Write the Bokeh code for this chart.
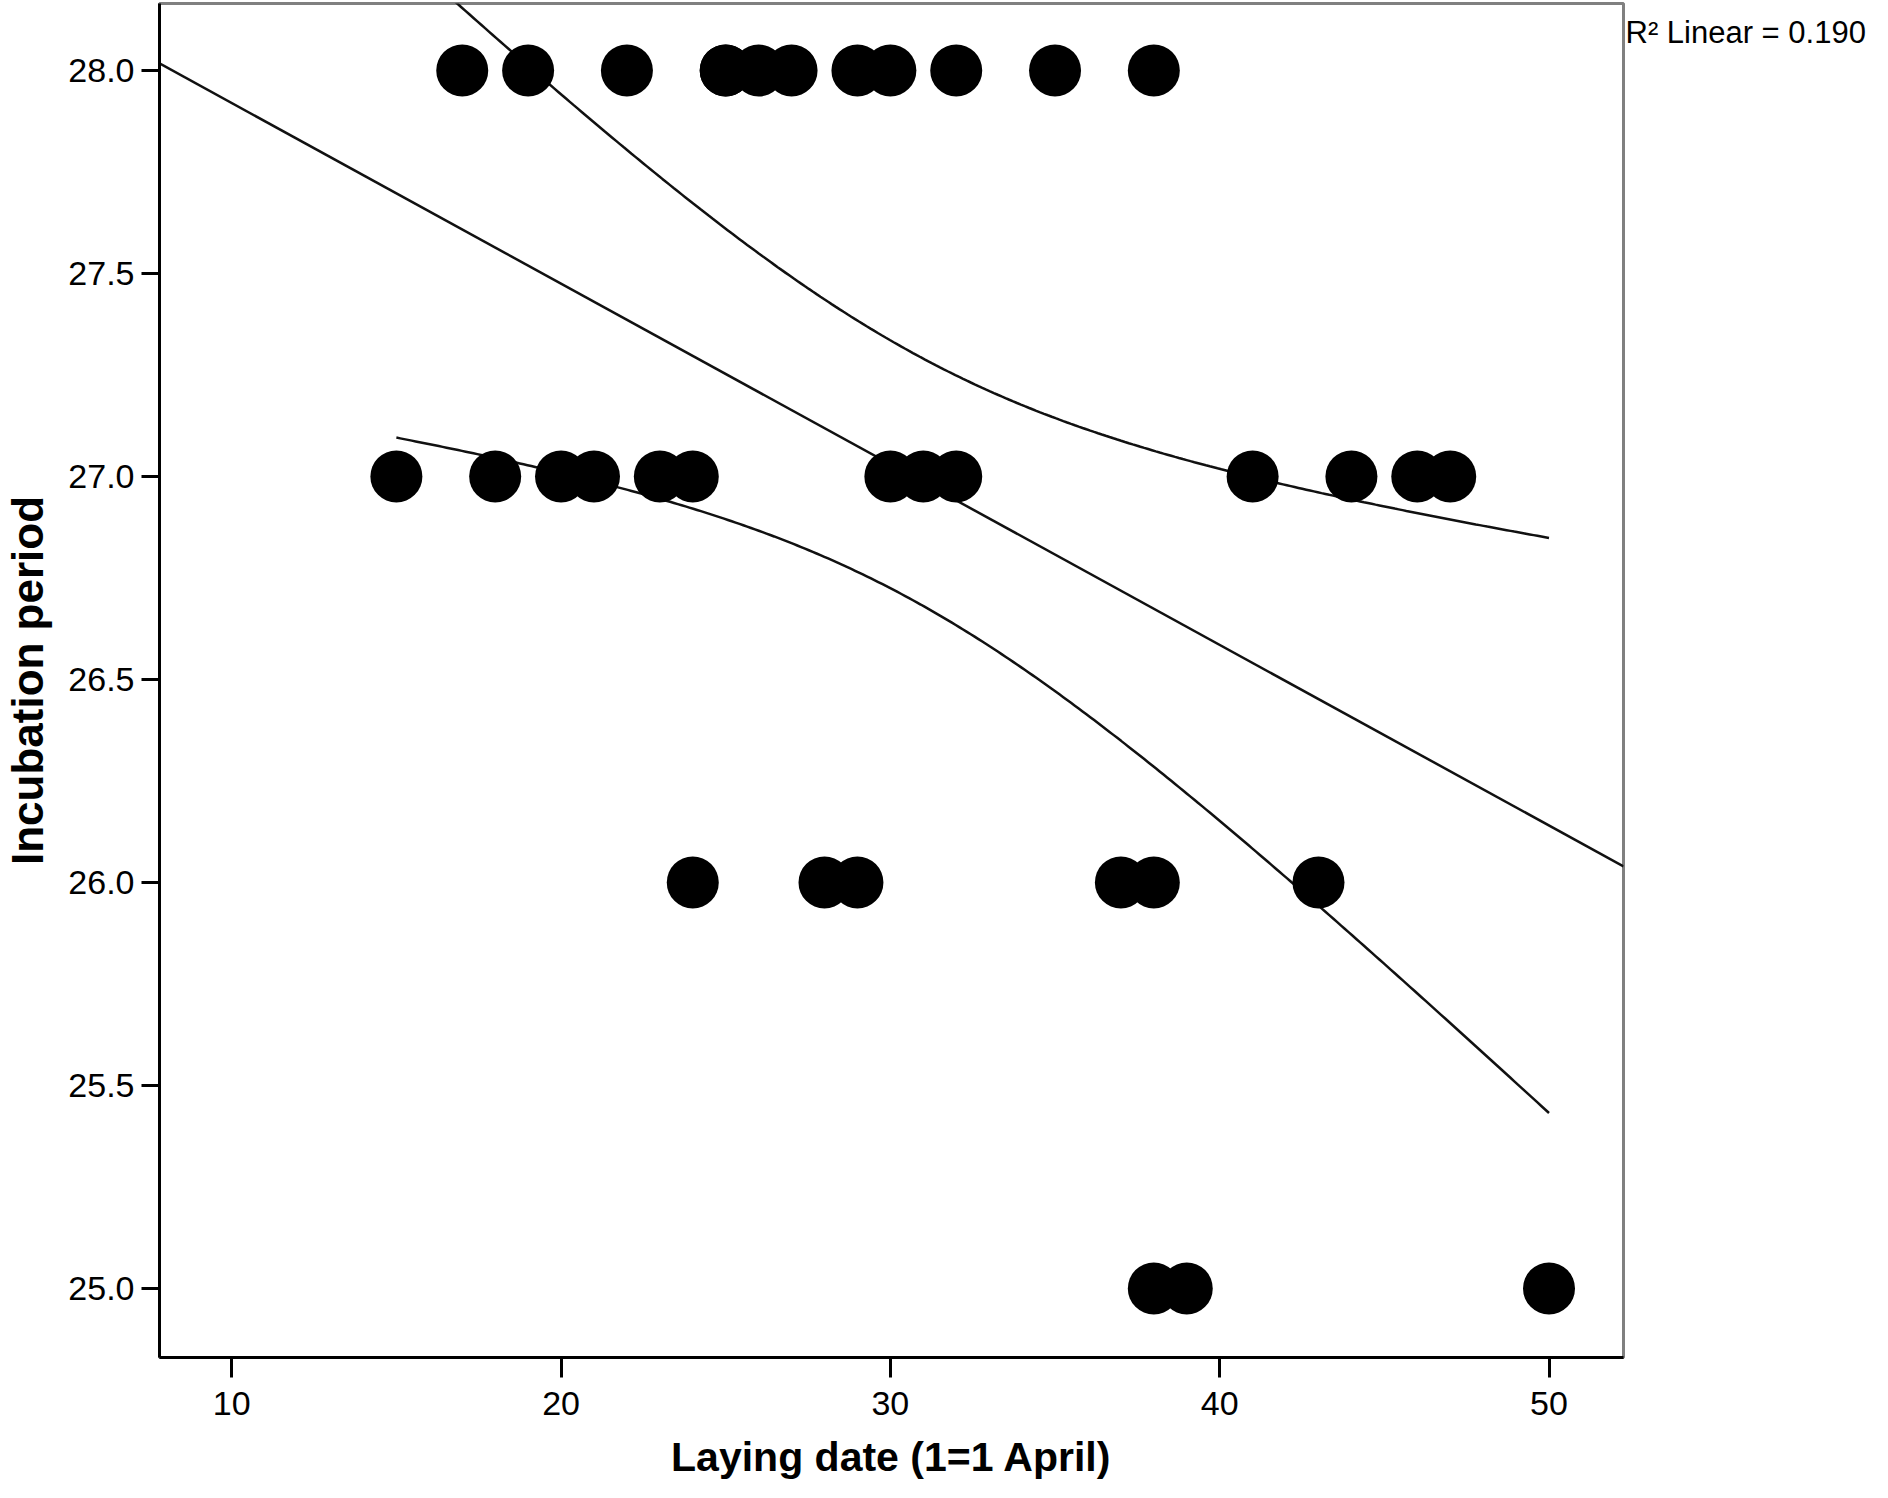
import numpy as np
from bokeh.plotting import figure
from bokeh.models import Range1d, FixedTicker, PrintfTickFormatter, LinearAxis
from bokeh.embed import file_html
from bokeh.resources import INLINE

# ---- data ((25, 28) occurs twice, hidden by overlap) ----
laying_date_28 = [17, 19, 22, 25, 25, 26, 27, 29, 30, 32, 35, 38]
laying_date_27 = [15, 18, 20, 21, 23, 24, 30, 31, 32, 41, 44, 46, 47]
laying_date_26 = [24, 28, 29, 37, 38, 43]
laying_date_25 = [38, 39, 50]
incubation_levels = [28, 27, 26, 25]

x_ticks = [10, 20, 30, 40, 50]
y_ticks = [25.0, 25.5, 26.0, 26.5, 27.0, 27.5, 28.0]
r2_text = "R\u00b2 Linear = 0.190"
x_title = "Laying date (1=1 April)"
y_title = "Incubation period"
t_crit = 2.037  # t(0.975, df=32)

groups = [laying_date_28, laying_date_27, laying_date_26, laying_date_25]
xs = np.array([d for g in groups for d in g], dtype=float)
ys = np.array([lvl for g, lvl in zip(groups, incubation_levels) for _ in g], dtype=float)

# ---- linear fit + 95% CI of the mean ----
n = len(xs)
xm, ym = xs.mean(), ys.mean()
sxx = ((xs - xm) ** 2).sum()
sxy = ((xs - xm) * (ys - ym)).sum()
slope = sxy / sxx
icpt = ym - slope * xm
resid = ys - (icpt + slope * xs)
s = np.sqrt((resid ** 2).sum() / (n - 2))

X0, X1 = 7.807, 52.262
Y0, Y1 = 24.830, 28.165
fit_x = np.array([X0, X1])
fit_y = icpt + slope * fit_x
ci_x = np.linspace(xs.min(), xs.max(), 300)
hw = t_crit * s * np.sqrt(1.0 / n + (ci_x - xm) ** 2 / sxx)
ci_lo = icpt + slope * ci_x - hw
ci_hi = icpt + slope * ci_x + hw

W, H = 1872, 1482
L, R, T, B = 159, 249, 3, 125
fh = H - T - B

def dy(py):  # canvas y pixel -> data y
    return Y1 - (py - T) * (Y1 - Y0) / fh

font = "Liberation Sans"
p = figure(width=W, height=H, x_range=Range1d(X0, X1), y_range=Range1d(Y0, Y1),
           output_backend="svg", toolbar_location=None,
           min_border_left=L, min_border_right=R, min_border_top=T, min_border_bottom=B)
p.background_fill_color = "white"
p.border_fill_color = "white"
p.outline_line_color = "#808080"
p.outline_line_width = 3
p.xgrid.visible = False
p.ygrid.visible = False

for ax, out, so in ((p.xaxis, 20, 14), (p.yaxis, 18, 7)):
    ax.axis_line_color = "black"
    ax.axis_line_width = 3
    ax.major_tick_line_color = "black"
    ax.major_tick_line_width = 3
    ax.major_tick_in = 0
    ax.major_tick_out = out
    ax.minor_tick_line_color = None
    ax.major_label_text_font = font
    ax.major_label_text_font_size = "34px"
    ax.major_label_text_color = "black"
    ax.major_label_standoff = so
    ax.axis_label_text_font = font
    ax.axis_label_text_font_style = "bold"
    ax.axis_label_text_color = "black"
p.xaxis.ticker = FixedTicker(ticks=x_ticks)
p.yaxis.ticker = FixedTicker(ticks=y_ticks)
p.yaxis.formatter = PrintfTickFormatter(format="%.1f")
p.xaxis.axis_label = x_title
p.xaxis.axis_label_text_font_size = "41px"
p.xaxis.axis_label_standoff = 16
p.yaxis.axis_label = y_title
p.yaxis.axis_label_text_font_size = "44px"
p.yaxis.axis_label_standoff = 13

# R-squared annotation, shown as a label of a bare axis on the right
r2_pos = dy(32)
r2_axis = LinearAxis(ticker=FixedTicker(ticks=[r2_pos]),
                     major_label_overrides={r2_pos: r2_text})
r2_axis.axis_line_color = None
r2_axis.major_tick_line_color = None
r2_axis.minor_tick_line_color = None
r2_axis.major_tick_out = 0
r2_axis.major_tick_in = 0
r2_axis.major_label_standoff = 2
r2_axis.major_label_text_font = font
r2_axis.major_label_text_font_size = "31px"
r2_axis.major_label_text_color = "black"
p.add_layout(r2_axis, "right")

p.line(fit_x, fit_y, line_color="#111111", line_width=2.5)
p.line(ci_x, ci_lo, line_color="#111111", line_width=2.5)
p.line(ci_x, ci_hi, line_color="#111111", line_width=2.5)
p.scatter(xs, ys, size=52, fill_color="black", line_color=None)

open("out.html", "w").write(file_html(p, INLINE))
